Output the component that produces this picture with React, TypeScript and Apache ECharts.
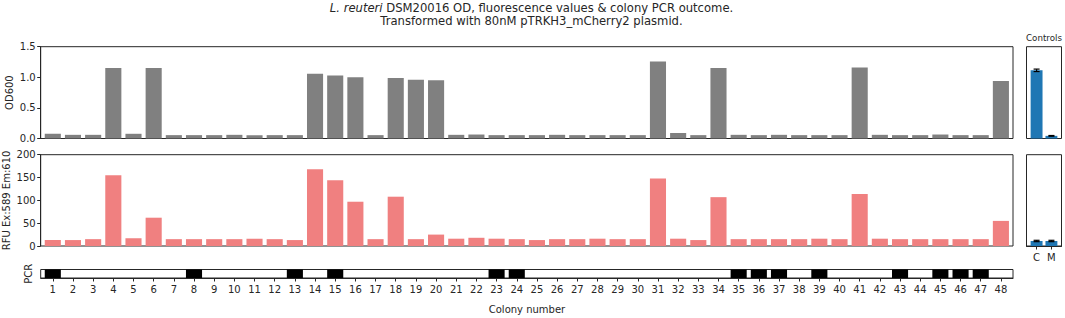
import React, { useEffect, useRef } from 'react';
import * as echarts from 'echarts';

// ---- Data ----
const colonies = [
  1, 2, 3, 4, 5, 6, 7, 8, 9, 10, 11, 12, 13, 14, 15, 16, 17, 18, 19, 20, 21, 22, 23, 24,
  25, 26, 27, 28, 29, 30, 31, 32, 33, 34, 35, 36, 37, 38, 39, 40, 41, 42, 43, 44, 45, 46, 47, 48,
];
const od600 = [
  0.077, 0.06, 0.06, 1.15, 0.077, 1.15, 0.055, 0.055, 0.055, 0.06, 0.055, 0.055,
  0.055, 1.06, 1.03, 1.0, 0.055, 0.99, 0.96, 0.95, 0.06, 0.065, 0.055, 0.055,
  0.055, 0.06, 0.055, 0.055, 0.055, 0.055, 1.26, 0.09, 0.055, 1.15, 0.06, 0.055,
  0.06, 0.055, 0.055, 0.055, 1.16, 0.06, 0.055, 0.055, 0.065, 0.055, 0.055, 0.94,
];
const rfu = [
  13, 13, 15, 155, 17, 62, 15, 15, 15, 15, 16, 15,
  13, 168, 144, 97, 15, 108, 15, 25, 16, 18, 16, 15,
  13, 15, 15, 16, 15, 15, 148, 16, 13, 107, 15, 15,
  15, 15, 16, 15, 114, 16, 15, 15, 15, 15, 15, 55,
];
const pcrPositive = [1, 8, 13, 15, 23, 24, 35, 36, 37, 39, 43, 45, 46, 47];
const controlLabels = ['C', 'M'];
const controlOd = [1.114, 0.043];
const controlOdErr = [0.02, 0.006];
const controlRfu = [11, 11];
const controlRfuErr = [1.5, 1.5];

const FONT = 'DejaVu Sans';
const INK = '#262626';

const mainLeft = 40.7;
const mainWidth = 972.3;
const ctrlLeft = 1026.5;
const ctrlWidth = 35;
const topA = 46.7, hA = 91.8;
const topB = 154.7, hB = 91.3;
const topC = 269.5, hC = 8.5;

function hiddenAxis(gridIndex: number, min: number, max: number) {
  return {
    gridIndex, type: 'value', min, max,
    axisLine: { show: false }, axisTick: { show: false }, axisLabel: { show: false },
    splitLine: { show: false },
  };
}

function errRender(params: any, api: any) {
  const x = api.value(0);
  const lo = api.coord([x, api.value(1)]);
  const hi = api.coord([x, api.value(2)]);
  const hw = 3;
  const style = { stroke: '#000', lineWidth: 1.2 };
  return {
    type: 'group',
    children: [
      { type: 'line', shape: { x1: lo[0], y1: lo[1], x2: hi[0], y2: hi[1] }, style },
      { type: 'line', shape: { x1: lo[0] - hw, y1: lo[1], x2: lo[0] + hw, y2: lo[1] }, style },
      { type: 'line', shape: { x1: hi[0] - hw, y1: hi[1], x2: hi[0] + hw, y2: hi[1] }, style },
    ],
  };
}

export default function App() {
  const ref = useRef<HTMLDivElement>(null);
  useEffect(() => {
    if (!ref.current) return;
    const chart = echarts.init(ref.current, null, { renderer: 'svg' });
    const gridBase = { show: true, borderColor: INK, borderWidth: 1, backgroundColor: '#fff', outerBoundsMode: 'none', containLabel: false };
    const labelStyle = { fontSize: 10, color: INK, fontFamily: FONT };
    const tickStyle = { show: true, length: 3.5, lineStyle: { color: INK, width: 1 } };
    const option: any = {
      animation: false,
      backgroundColor: '#fff',
      grid: [
        { ...gridBase, left: mainLeft, top: topA, width: mainWidth, height: hA },
        { ...gridBase, left: mainLeft, top: topB, width: mainWidth, height: hB },
        { ...gridBase, left: mainLeft, top: topC, width: mainWidth, height: hC },
        { ...gridBase, left: ctrlLeft, top: topA, width: ctrlWidth, height: hA },
        { ...gridBase, left: ctrlLeft, top: topB, width: ctrlWidth, height: hB },
      ],
      xAxis: [
        hiddenAxis(0, 0.4, 48.6),
        hiddenAxis(1, 0.4, 48.6),
        {
          gridIndex: 2, type: 'value', min: 0.4, max: 48.6,
          axisLine: { show: true, lineStyle: { color: INK } },
          axisTick: { ...tickStyle, customValues: colonies },
          axisLabel: { ...labelStyle, margin: 6, customValues: colonies },
          splitLine: { show: false },
        },
        hiddenAxis(3, -0.68, 1.68),
        {
          gridIndex: 4, type: 'value', min: -0.68, max: 1.68,
          axisLine: { show: true, lineStyle: { color: INK } },
          axisTick: { ...tickStyle, customValues: [0, 1] },
          axisLabel: { ...labelStyle, margin: 6, customValues: [0, 1], formatter: (v: number) => controlLabels[Math.round(v)] },
          splitLine: { show: false },
        },
      ],
      yAxis: [
        {
          gridIndex: 0, type: 'value', min: 0, max: 1.5, interval: 0.5,
          axisLine: { show: true, lineStyle: { color: INK } },
          axisTick: tickStyle,
          axisLabel: { ...labelStyle, margin: 5, formatter: (v: number) => v.toFixed(1) },
          splitLine: { show: false },
        },
        {
          gridIndex: 1, type: 'value', min: 0, max: 200, interval: 50,
          axisLine: { show: true, lineStyle: { color: INK } },
          axisTick: tickStyle,
          axisLabel: { ...labelStyle, margin: 5 },
          splitLine: { show: false },
        },
        hiddenAxis(2, 0, 1),
        hiddenAxis(3, 0, 1.5),
        hiddenAxis(4, 0, 200),
      ],
      series: [
        {
          type: 'bar', xAxisIndex: 0, yAxisIndex: 0, barWidth: 16.1,
          itemStyle: { color: '#808080' },
          data: colonies.map((c, i) => [c, od600[i]]),
        },
        {
          type: 'bar', xAxisIndex: 1, yAxisIndex: 1, barWidth: 16.1,
          itemStyle: { color: '#f08080' },
          data: colonies.map((c, i) => [c, rfu[i]]),
        },
        {
          type: 'bar', xAxisIndex: 2, yAxisIndex: 2, barWidth: 16.1,
          itemStyle: { color: '#000' },
          data: pcrPositive.map((c) => [c, 1]),
        },
        {
          type: 'bar', xAxisIndex: 3, yAxisIndex: 3, barWidth: 11.9,
          itemStyle: { color: '#1f77b4' },
          data: controlOd.map((v, i) => [i, v]),
        },
        {
          type: 'custom', xAxisIndex: 3, yAxisIndex: 3, renderItem: errRender, z: 5,
          encode: { x: 0, y: [1, 2] },
          data: controlOd.map((v, i) => [i, v - controlOdErr[i], v + controlOdErr[i]]),
        },
        {
          type: 'bar', xAxisIndex: 4, yAxisIndex: 4, barWidth: 11.9,
          itemStyle: { color: '#1f77b4' },
          data: controlRfu.map((v, i) => [i, v]),
        },
        {
          type: 'custom', xAxisIndex: 4, yAxisIndex: 4, renderItem: errRender, z: 5,
          encode: { x: 0, y: [1, 2] },
          data: controlRfu.map((v, i) => [i, v - controlRfuErr[i], v + controlRfuErr[i]]),
        },
      ],
      graphic: [
        {
          type: 'text', x: 531.5, y: 7.5,
          style: {
            text: '{i|L. reuteri} DSM20016 OD, fluorescence values & colony PCR outcome.',
            align: 'center', verticalAlign: 'middle',
            fontSize: 11.6, fontFamily: FONT, fill: INK,
            rich: { i: { fontStyle: 'italic', fontSize: 11.6, fontFamily: FONT, fill: INK } },
          },
        },
        {
          type: 'text', x: 531.5, y: 20.5,
          style: {
            text: 'Transformed with 80nM pTRKH3_mCherry2 plasmid.',
            align: 'center', verticalAlign: 'middle',
            fontSize: 11.6, fontFamily: FONT, fill: INK,
          },
        },
        {
          type: 'text', x: 1044, y: 37.5,
          style: { text: 'Controls', align: 'center', verticalAlign: 'middle', fontSize: 8.7, fontFamily: FONT, fill: INK },
        },
        {
          type: 'text', x: 9.5, y: 92.6, rotation: Math.PI / 2,
          style: { text: 'OD600', align: 'center', verticalAlign: 'middle', fontSize: 10, fontFamily: FONT, fill: INK },
        },
        {
          type: 'text', x: 6.5, y: 200.4, rotation: Math.PI / 2,
          style: { text: 'RFU Ex:589 Em:610', align: 'center', verticalAlign: 'middle', fontSize: 10, fontFamily: FONT, fill: INK },
        },
        {
          type: 'text', x: 28.5, y: 273.8, rotation: Math.PI / 2,
          style: { text: 'PCR', align: 'center', verticalAlign: 'middle', fontSize: 10, fontFamily: FONT, fill: INK },
        },
        {
          type: 'text', x: 527, y: 309,
          style: { text: 'Colony number', align: 'center', verticalAlign: 'middle', fontSize: 10, fontFamily: FONT, fill: INK },
        },
      ],
    };
    chart.setOption(option);
    return () => chart.dispose();
  }, []);
  return (
    <div
      ref={ref}
      style={{ position: 'fixed', left: 0, top: 0, width: 1065, height: 318, background: '#fff' }}
    />
  );
}
